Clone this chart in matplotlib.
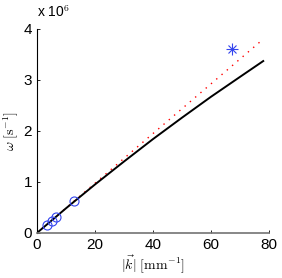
import matplotlib.pyplot as plt
import numpy as np

plt.rcParams['mathtext.fontset'] = 'cm'
plt.rcParams['font.family'] = ['Liberation Sans', 'DejaVu Sans']

# dispersion curve (black)
k_curve = [0, 10, 20, 30, 40, 50, 60, 70, 78]
w_curve = [0, 0.483, 0.95, 1.40, 1.84, 2.26, 2.67, 3.06, 3.37]

# linear fit (red dotted)
k_lin = [0, 78]
w_lin = [0, 3.80]

# measured points (circles)
k_meas = [3.3, 5.1, 6.4, 12.8]
w_meas = [0.16, 0.24, 0.31, 0.63]

# outlier (asterisk)
k_star = [67.3]
w_star = [3.61]

fig = plt.figure(figsize=(2.82, 2.78), dpi=100)
ax = fig.add_axes([0.131, 0.162, 0.823, 0.734])

scale = 1e6
ax.plot(k_lin, np.array(w_lin) * scale, color='red', lw=1.0, linestyle=(0, (1, 4)))
ax.plot(k_curve, np.array(w_curve) * scale, '-', color='black', lw=1.4)
ax.plot(k_meas, np.array(w_meas) * scale, 'o', mfc='none', mec='#3344ee', ms=6.5, mew=0.8)
ax.plot(k_star, np.array(w_star) * scale, '+', color='#3344ee', ms=8, mew=0.8)
ax.plot(k_star, np.array(w_star) * scale, 'x', color='#3344ee', ms=6, mew=0.8)

ax.set_xlim(0, 80)
ax.set_ylim(0, 4e6)
ax.set_xticks([0, 20, 40, 60, 80])
ax.set_yticks(np.arange(5) * scale)
ax.set_yticklabels(['0', '1', '2', '3', '4'])
ax.tick_params(direction='in', length=2, labelsize=11, width=0.6)

for s in ['top', 'right']:
    ax.spines[s].set_visible(False)
ax.spines['left'].set_linewidth(0.8)
ax.spines['bottom'].set_color('0.45')
ax.spines['bottom'].set_linewidth(1.2)

ax.text(0.0, 1.045, r'x 10$^6$', transform=ax.transAxes, fontsize=10, ha='left', va='bottom')

ax.set_xlabel(r'$|\vec{k}|\ [\mathrm{mm}^{-1}]$', fontsize=10, labelpad=1)
ax.set_ylabel(r'$\omega\ [\mathrm{s}^{-1}]$', fontsize=10, labelpad=2)

fig.savefig('out.png', dpi=100)
